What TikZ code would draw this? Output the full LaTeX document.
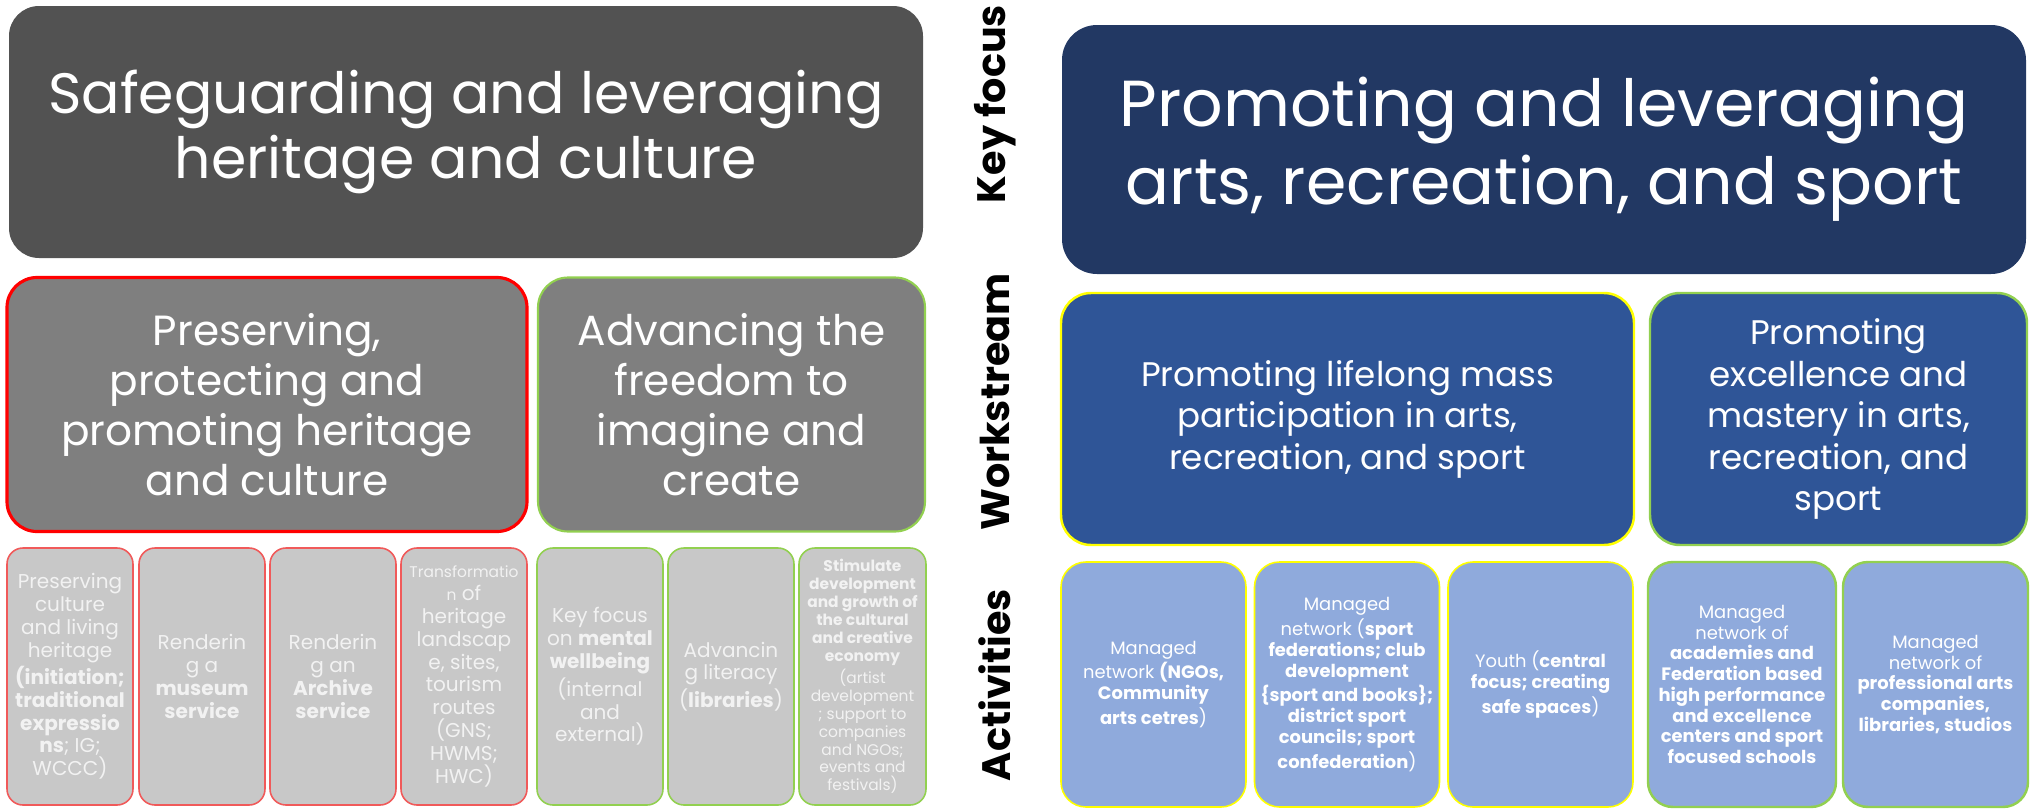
\documentclass[tikz,border=0pt]{standalone}
\usepackage{fontspec}
\setmainfont{Poppins}
\usepackage{tikz}
\definecolor{heritagedark}{HTML}{525252}
\definecolor{heritagemid}{HTML}{7F7F7F}
\definecolor{heritagelight}{HTML}{C8C8C8}
\definecolor{artsnavy}{HTML}{223863}
\definecolor{artsblue}{HTML}{2F5597}
\definecolor{artslight}{HTML}{8FAADC}
\definecolor{edgered}{HTML}{FF0000}
\definecolor{edgepink}{HTML}{F05A5A}
\definecolor{edgegreen}{HTML}{92D050}
\definecolor{edgeyellow}{HTML}{FFFF00}
\definecolor{softwhite}{HTML}{F2F2F2}
\newcommand{\boxfont}[2]{\fontsize{#1}{#2}\selectfont}

\begin{document}
\begin{tikzpicture}[x=0.1mm,y=-0.1mm,
      box/.style={rectangle,align=center,text=white,inner sep=0pt},
      keybox/.style={box,rounded corners=3mm,minimum height=25mm},
      workbox/.style={box,rounded corners=3mm,minimum height=25.4mm,
                      font=\boxfont{12}{14.2}},
      actbox/.style={box,rounded corners=1.6mm,minimum height=25.7mm,
                     minimum width=12.6mm,text=softwhite,fill=heritagelight,
                     font=\boxfont{5.7}{6.5}},
      artsact/.style={box,rounded corners=2.5mm,minimum height=24.5mm,
                      minimum width=18.5mm,fill=artslight,font=\boxfont{5.1}{5.9}},
      rowlabel/.style={rotate=90,font=\boxfont{11.3}{13}\bfseries}]
    \useasboundingbox (0,0) rectangle (2035,810);
    %% -- Heritage and culture ---------------------------------
    \node[keybox,fill=heritagedark,minimum width=91.4mm,minimum height=25.2mm,
          font=\boxfont{16.2}{18.6}] (safe) at (466,132)
      {Safeguarding and leveraging\\heritage and culture};
    \node[workbox,fill=heritagemid,draw=edgered,line width=0.9pt,
          minimum width=52mm] (pres) at (267,404.5)
      {Preserving,\\protecting and\\promoting heritage\\and culture};
    \node[workbox,fill=heritagemid,draw=edgegreen,line width=0.6pt,
          minimum width=38.7mm] (adv) at (731.5,404.5)
      {Advancing the\\freedom to\\imagine and\\create};
    %% -- Heritage activities ----------------------------------
    \node[actbox,draw=edgepink,line width=0.45pt] (living) at (70,676.5)
      {Preserving\\culture\\and living\\heritage\\
       \textbf{(initiation;}\\\textbf{traditional}\\\textbf{expressio}\\
       \textbf{ns}; IG;\\WCCC)};
    \node[actbox,draw=edgepink,line width=0.45pt] (museum) at (202,676.5)
      {Renderin\\g a\\\textbf{museum}\\\textbf{service}};
    \node[actbox,draw=edgepink,line width=0.45pt] (archive) at (333,676.5)
      {Renderin\\g an\\\textbf{Archive}\\\textbf{service}};
    \node[actbox,draw=edgepink,line width=0.45pt] (landscape) at (464,676.5)
      {{\boxfont{4.4}{6.5}Transformatio}\\
       {\boxfont{4.4}{6.5}n} of\\heritage\\landscap\\e, sites,\\
       tourism\\routes\\(GNS;\\HWMS;\\HWC)};
    \node[actbox,draw=edgegreen,line width=0.45pt] (wellbeing) at (600,676.5)
      {Key focus\\on \textbf{mental}\\\textbf{wellbeing}\\
       (internal\\and\\external)};
    \node[actbox,draw=edgegreen,line width=0.45pt] (literacy) at (731,676.5)
      {Advancin\\g literacy\\(\textbf{libraries})};
    \node[actbox,draw=edgegreen,line width=0.45pt,minimum width=12.7mm,
          font=\boxfont{4.4}{5.1}] (economy) at (862.5,676.5)
      {\textbf{Stimulate}\\\textbf{development}\\
       \textbf{and growth of}\\\textbf{the cultural}\\\textbf{and creative}\\
       \textbf{economy}\\(artist\\development\\; support to\\companies\\
       and NGOs;\\events and\\festivals)};
    %% -- Row labels -------------------------------------------
    \node[rowlabel] (focuslbl) at (995,104) {Key focus};
    \node[rowlabel] (streamlbl) at (995,402) {Workstream};
    \node[rowlabel] (actlbl) at (995,685) {Activities};
    %% -- Arts, recreation and sport ---------------------------
    \node[keybox,fill=artsnavy,rounded corners=3.5mm,minimum width=96.4mm,
          minimum height=24.9mm,font=\boxfont{18.5}{22.2}] (arts) at (1544,149.5)
      {Promoting and leveraging\\arts, recreation, and sport};
    \node[workbox,fill=artsblue,draw=edgeyellow,line width=0.7pt,
          minimum width=57.3mm,minimum height=25.2mm,font=\boxfont{9.7}{11.8}]
      (mass) at (1347.5,419)
      {Promoting lifelong mass\\participation in arts,\\
       recreation, and sport};
    \node[workbox,fill=artsblue,draw=edgegreen,line width=0.7pt,
          minimum width=37.7mm,minimum height=25.2mm,font=\boxfont{9.7}{11.8}]
      (mastery) at (1838.5,419)
      {Promoting\\excellence and\\mastery in arts,\\
       recreation, and\\sport};
    %% -- Arts activities --------------------------------------
    \node[artsact,draw=edgeyellow,line width=0.45pt] (ngo) at (1153.5,684.5)
      {Managed\\network \textbf{(NGOs,}\\\textbf{Community}\\
       \textbf{arts cetres})};
    \node[artsact,draw=edgeyellow,line width=0.45pt] (sportnet) at (1347,684.5)
      {Managed\\network (\textbf{sport}\\
       \textbf{federations; club}\\\textbf{development}\\
       \textbf{\{sport and books\};}\\\textbf{district sport}\\
       \textbf{councils; sport}\\\textbf{confederation})};
    \node[artsact,draw=edgeyellow,line width=0.45pt] (youth) at (1540.5,684.5)
      {Youth (\textbf{central}\\\textbf{focus; creating}\\
       \textbf{safe spaces})};
    \node[artsact,draw=edgegreen,line width=0.7pt,minimum width=18.8mm]
      (academy) at (1742,684.5)
      {Managed\\network of\\\textbf{academies and}\\
       \textbf{Federation based}\\\textbf{high performance}\\
       \textbf{and excellence}\\\textbf{centers and sport}\\
       \textbf{focused schools}};
    \node[artsact,draw=edgegreen,line width=0.7pt] (profarts) at (1935.5,684.5)
      {Managed\\network of\\\textbf{professional arts}\\
       \textbf{companies,}\\\textbf{libraries, studios}};
  \end{tikzpicture}
\end{document}
